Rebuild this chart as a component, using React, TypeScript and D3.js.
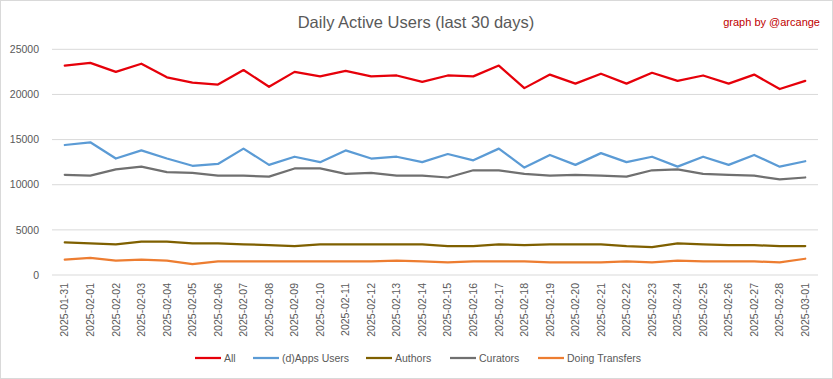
import React from "react";
import * as d3 from "d3";

const dates = [
  "2025-01-31","2025-02-01","2025-02-02","2025-02-03","2025-02-04","2025-02-05","2025-02-06","2025-02-07","2025-02-08","2025-02-09",
  "2025-02-10","2025-02-11","2025-02-12","2025-02-13","2025-02-14","2025-02-15","2025-02-16","2025-02-17","2025-02-18","2025-02-19",
  "2025-02-20","2025-02-21","2025-02-22","2025-02-23","2025-02-24","2025-02-25","2025-02-26","2025-02-27","2025-02-28","2025-03-01",
];

const allUsers = [23200,23500,22500,23400,21900,21300,21100,22700,20850,22500,22000,22600,22000,22100,21400,22100,22000,23200,20700,22200,21200,22300,21200,22400,21500,22100,21200,22200,20600,21500];
const dappsUsers = [14400,14700,12900,13800,12900,12100,12300,14000,12200,13100,12500,13800,12900,13100,12500,13400,12700,14000,11900,13300,12200,13500,12500,13100,12000,13100,12200,13300,12000,12600];
const authors = [3600,3500,3400,3700,3700,3500,3500,3400,3300,3200,3400,3400,3400,3400,3400,3200,3200,3400,3300,3400,3400,3400,3200,3100,3500,3400,3300,3300,3200,3200];
const curators = [11100,11000,11700,12000,11400,11300,11000,11000,10900,11800,11800,11200,11300,11000,11000,10800,11600,11600,11200,11000,11100,11000,10900,11600,11700,11200,11100,11000,10600,10800];
const doingTransfers = [1700,1900,1600,1700,1600,1200,1500,1500,1500,1500,1500,1500,1500,1600,1500,1400,1500,1500,1500,1400,1400,1400,1500,1400,1600,1500,1500,1500,1400,1800];

const seriesNames = ["All", "(d)Apps Users", "Authors", "Curators", "Doing Transfers"];
const seriesColors = ["#e6000a", "#5b9bd5", "#7f6000", "#707070", "#ed7d31"];
const yTicks = [0, 5000, 10000, 15000, 20000, 25000];

const W = 833, H = 379;
const FONT = "'Liberation Sans', Arial, sans-serif";

export default function App() {
  const series = [allUsers, dappsUsers, authors, curators, doingTransfers];
  const x = d3.scaleBand<string>().domain(dates).range([52, 818]);
  const y = d3.scaleLinear().domain([0, 25000]).range([275, 49.3]);
  const cx = (d: string) => (x(d) as number) + x.bandwidth() / 2;
  const line = d3.line<number>().x((_, i) => cx(dates[i])).y((v) => y(v));

  const legendItems = [
    { lx: 195, tx: 224 },
    { lx: 253, tx: 282 },
    { lx: 366, tx: 395 },
    { lx: 450, tx: 479 },
    { lx: 538, tx: 567 },
  ];

  return (
    <svg width={W} height={H} style={{ position: "absolute", left: 0, top: 0, background: "#fff" }} fontFamily={FONT}>
      <rect x={0.5} y={0.5} width={W - 1} height={H - 1} fill="#fff" stroke="#d9d9d9" />
      <text x={416} y={28} textAnchor="middle" fontSize={16.5} fill="#595959">Daily Active Users (last 30 days)</text>
      <text x={820} y={26} textAnchor="end" fontSize={11} fill="#c00000">graph by @arcange</text>
      {yTicks.map((t) => (
        <g key={t}>
          <line x1={52} x2={818} y1={y(t)} y2={y(t)} stroke="#d9d9d9" strokeWidth={1} />
          <text x={39} y={y(t)} dy="0.35em" textAnchor="end" fontSize={10.5} fill="#595959">{t}</text>
        </g>
      ))}
      {dates.map((d) => (
        <text key={d} transform={`translate(${cx(d)},283) rotate(-90)`} dy="0.35em" textAnchor="end" fontSize={10.5} fill="#595959">{d}</text>
      ))}
      {series.map((s, i) => (
        <path key={i} d={line(s) as string} fill="none" stroke={seriesColors[i]} strokeWidth={2.25} strokeLinejoin="round" strokeLinecap="round" />
      ))}
      {seriesNames.map((n, i) => (
        <g key={n}>
          <line x1={legendItems[i].lx} x2={legendItems[i].lx + 26} y1={358} y2={358} stroke={seriesColors[i]} strokeWidth={2.25} />
          <text x={legendItems[i].tx} y={358} dy="0.35em" fontSize={10.5} fill="#595959">{n}</text>
        </g>
      ))}
    </svg>
  );
}
